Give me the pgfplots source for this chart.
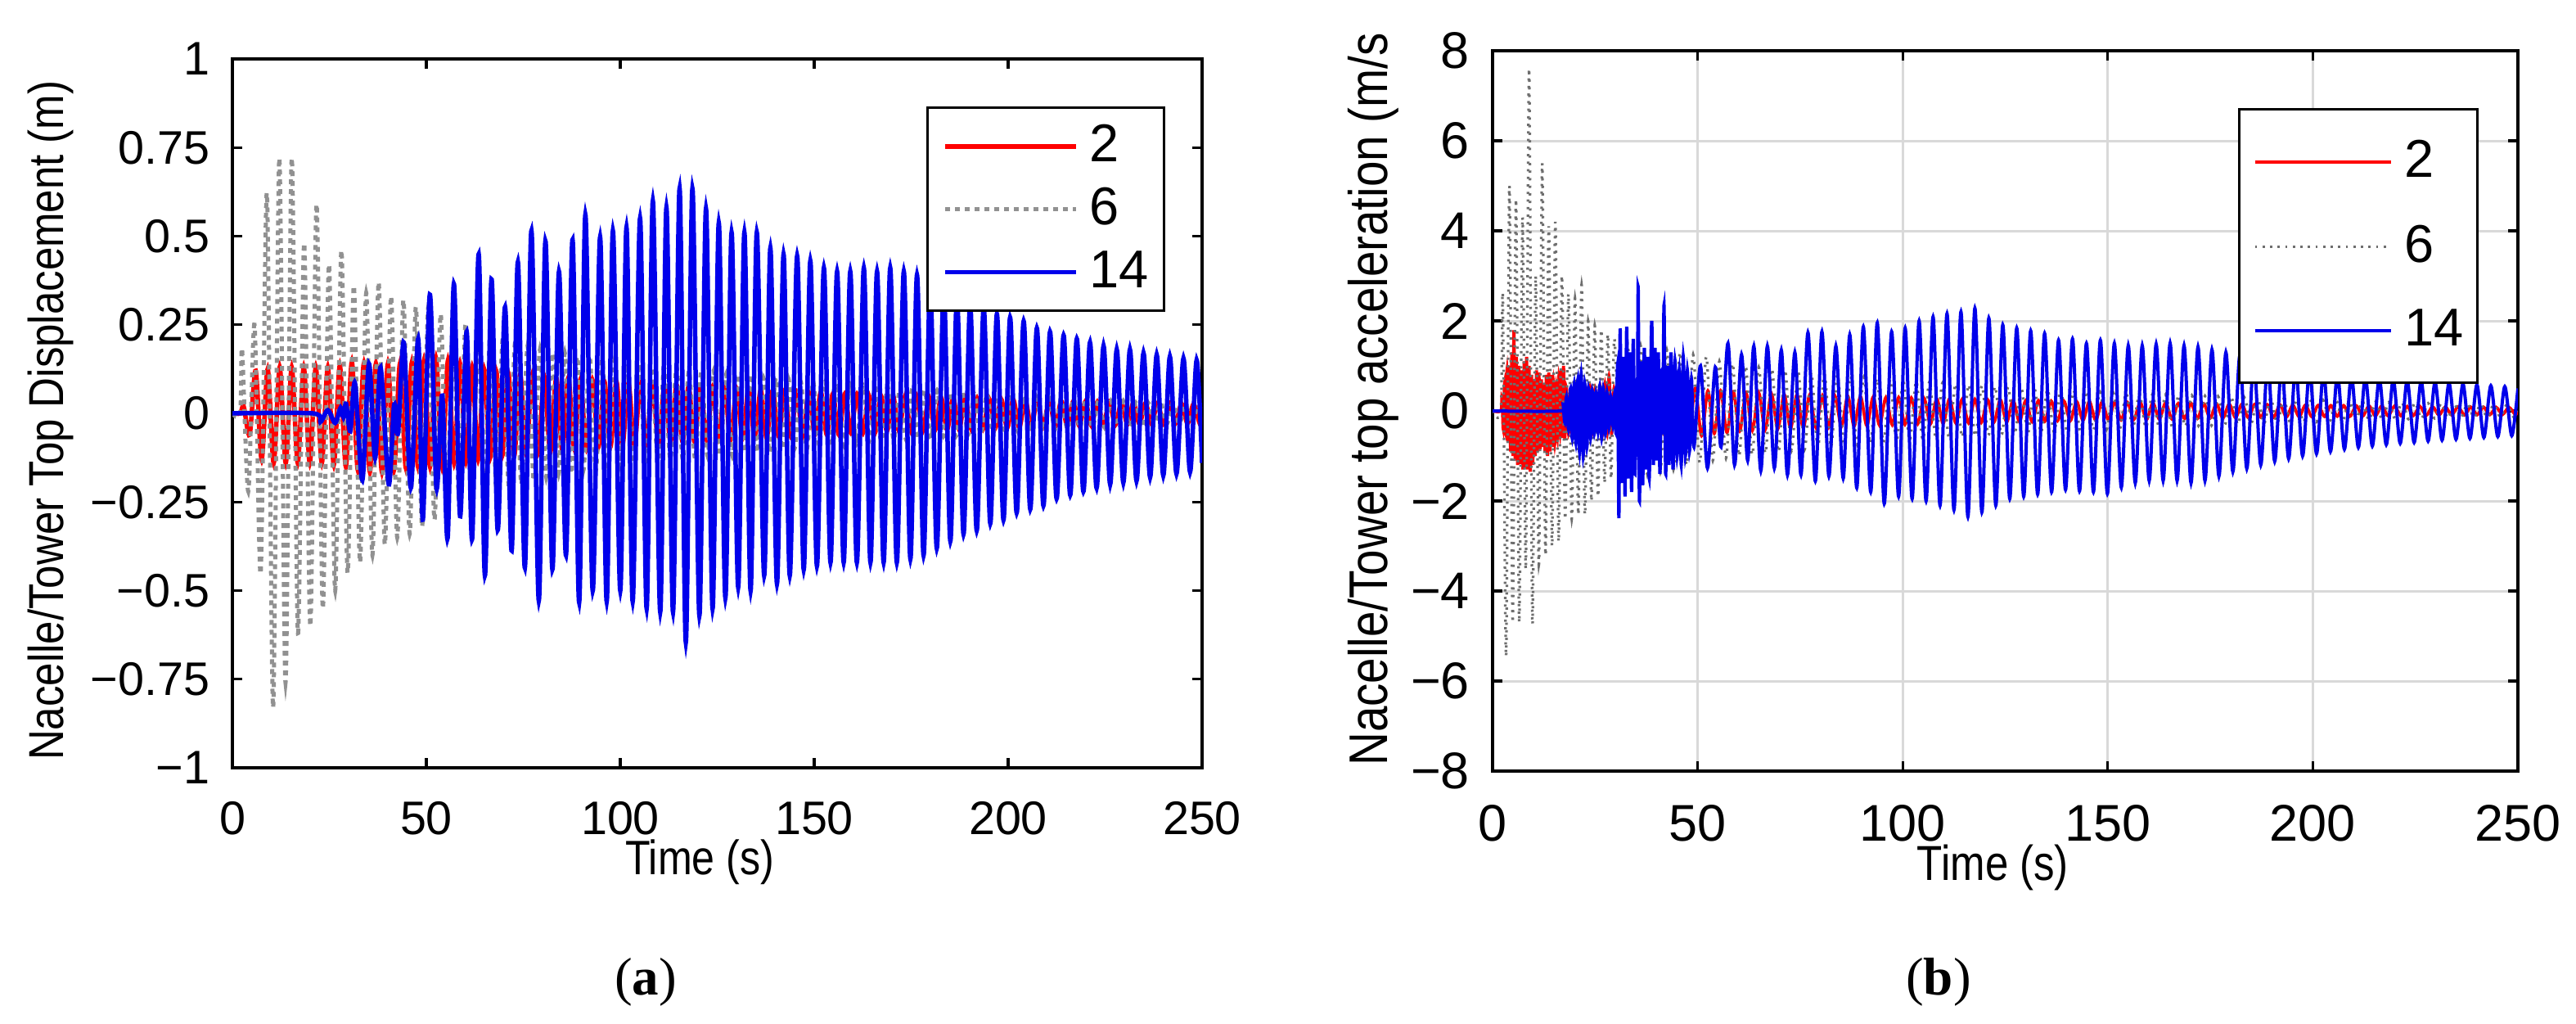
\documentclass[border=0pt]{standalone}
\usepackage{fontspec}
\setmainfont{Liberation Sans}
\newfontfamily\narrowfont[FakeStretch=0.85]{Liberation Sans}
\newfontfamily\capfont{Liberation Serif}
\usepackage{pgfplots}
\pgfplotsset{compat=1.18}
\definecolor{mred}{RGB}{255,0,0}
\definecolor{mblue}{RGB}{0,0,235}
\definecolor{mgrayA}{RGB}{145,145,145}
\definecolor{mgrayB}{RGB}{110,110,110}
\pgfplotsset{
  common/.style={
    scale only axis, xmin=0, xmax=250,
    xtick={0,50,100,150,200,250}, xticklabels={0,50,100,150,200,250},
    tick align=inside, major tick length=2.4pt,
    axis line style={line width=0.65pt},
    tick style={black, line width=0.65pt},
    /pgf/number format/assume math mode=true,
    xticklabel style={inner sep=0pt, anchor=north, yshift=-8pt},
    yticklabel style={inner sep=0pt, anchor=east, xshift=-5.4pt},
    legend cell align=left,
  }}
\begin{document}
\begin{tikzpicture}
\path[use as bounding box] (0,0) rectangle (629.6pt,250pt);
% ---------------- panel (a)
\begin{axis}[common,
  at={(56.8pt,235.6pt)}, anchor=north west, width=237pt, height=173.2pt,
  ymin=-1, ymax=1,
  ytick={-1,-0.75,-0.5,-0.25,0,0.25,0.5,0.75,1},
  yticklabels={−1,−0.75,−0.5,−0.25,0,0.25,0.5,0.75,1},
  tick label style={font=\fontsize{11.5}{13}\selectfont},
  xlabel={Time (s)}, ylabel={Nacelle/Tower Top Displacement (m)},
  xlabel style={at={(axis description cs:0.482,0)}, anchor=center, yshift=-23pt, font=\narrowfont\fontsize{11.8}{13}\selectfont},
  ylabel style={at={(axis description cs:-0.187,0.49)}, anchor=center, font=\narrowfont\fontsize{12}{14}\selectfont},
  legend image code/.code={\draw[#1] (0pt,0pt) -- (32pt,0pt);},
  legend style={at={(0.962,0.933)}, anchor=north east, draw=black, line width=0.6pt,
    inner xsep=3.8pt, inner ysep=4.2pt, row sep=4.8pt, column sep=2.6pt,
    nodes={inner sep=0pt}, font=\fontsize{13}{15}\selectfont},
]
\addplot[mred, line width=1.1pt, smooth] coordinates {(0,0)(2,0)(2.9,0.02)(4.45,-0.06)(6,0.12)(7.55,-0.13)(9.1,0.125)(10.65,-0.14)(12.2,0.13)(13.75,-0.14)(15.3,0.13)(16.85,-0.14)(18.4,0.13)(19.95,-0.14)(21.5,0.13)(23.05,-0.14)(24.6,0.13)(26.15,-0.145)(27.7,0.135)(29.25,-0.15)(30.8,0.145)(32.35,-0.16)(33.9,0.14)(35.45,-0.165)(37,0.14)(38.55,-0.165)(40.1,0.14)(41.65,-0.16)(43.2,0.14)(44.75,-0.155)(46.3,0.145)(47.85,-0.15)(49.4,0.15)(50.95,-0.15)(52.5,0.155)(54.05,-0.15)(55.6,0.15)(57.15,-0.14)(58.7,0.14)(60.25,-0.135)(61.8,0.13)(63.35,-0.13)(64.9,0.125)(66.45,-0.125)(68,0.12)(69.55,-0.12)(71.1,0.115)(72.65,-0.12)(74.2,0.11)(75.75,-0.115)(77.3,0.11)(78.85,-0.11)(80.4,0.105)(81.95,-0.11)(83.5,0.1)(85.05,-0.105)(86.6,0.1)(88.15,-0.1)(89.7,0.095)(91.25,-0.1)(92.8,0.095)(94.35,-0.095)(95.9,0.09)(97.45,-0.095)(99,0.09)(100.55,-0.09)(102.1,0.085)(103.65,-0.09)(105.2,0.085)(106.75,-0.085)(108.3,0.08)(109.85,-0.085)(111.4,0.08)(112.95,-0.08)(114.5,0.08)(116.05,-0.08)(117.6,0.075)(119.15,-0.08)(120.7,0.075)(122.25,-0.075)(123.8,0.075)(125.35,-0.075)(126.9,0.07)(128.45,-0.075)(130,0.07)(131.55,-0.07)(133.1,0.07)(134.65,-0.07)(136.2,0.065)(137.75,-0.07)(139.3,0.065)(140.85,-0.065)(142.4,0.065)(143.95,-0.065)(145.5,0.06)(147.05,-0.065)(148.6,0.06)(150.15,-0.06)(151.7,0.06)(153.25,-0.06)(154.8,0.055)(156.35,-0.06)(157.9,0.055)(159.45,-0.055)(161,0.055)(162.55,-0.055)(164.1,0.05)(165.65,-0.055)(167.2,0.05)(168.75,-0.05)(170.3,0.05)(171.85,-0.05)(173.4,0.048)(174.95,-0.05)(176.5,0.047)(178.05,-0.048)(179.6,0.046)(181.15,-0.047)(182.7,0.045)(184.25,-0.046)(185.8,0.044)(187.35,-0.045)(188.9,0.043)(190.45,-0.044)(192,0.042)(193.55,-0.043)(195.1,0.041)(196.65,-0.042)(198.2,0.04)(199.75,-0.041)(201.3,0.039)(202.85,-0.04)(204.4,0.038)(205.95,-0.039)(207.5,0.037)(209.05,-0.038)(210.6,0.036)(212.15,-0.037)(213.7,0.035)(215.25,-0.036)(216.8,0.034)(218.35,-0.035)(219.9,0.033)(221.45,-0.034)(223,0.032)(224.55,-0.033)(226.1,0.031)(227.65,-0.032)(229.2,0.03)(230.75,-0.031)(232.3,0.03)(233.85,-0.03)(235.4,0.029)(236.95,-0.03)(238.5,0.028)(240.05,-0.029)(241.6,0.028)(243.15,-0.028)(244.7,0.027)(246.25,-0.028)(247.8,0.026)(249.35,-0.027)(250,-0.01)};
\addlegendentry{2}
\addplot[mgrayA, line width=1pt, dash pattern=on 1.2pt off 1.2pt, smooth] coordinates {(0,0)(2,0)(2.5,0.18)(4.1,-0.22)(5.7,0.25)(7.3,-0.45)(8.9,0.62)(10.5,-0.83)(12.1,0.72)(13.7,-0.76)(15.3,0.72)(16.9,-0.62)(18.5,0.48)(20.1,-0.6)(21.7,0.59)(23.3,-0.55)(24.9,0.42)(26.5,-0.5)(28.1,0.46)(29.7,-0.45)(31.3,0.36)(32.9,-0.42)(34.5,0.34)(36.1,-0.4)(37.7,0.37)(39.3,-0.37)(40.9,0.33)(42.5,-0.35)(44.1,0.32)(45.7,-0.34)(47.3,0.3)(48.9,-0.32)(50.5,0.3)(52.1,-0.3)(53.7,0.28)(55.3,-0.28)(56.9,0.27)(58.5,-0.26)(60.1,0.25)(61.7,-0.24)(63.3,0.23)(64.9,-0.23)(66.5,0.22)(68.1,-0.22)(69.7,0.21)(71.3,-0.21)(72.9,0.2)(74.5,-0.2)(76.1,0.19)(77.7,-0.19)(79.3,0.18)(80.9,-0.18)(82.5,0.17)(84.1,-0.17)(85.7,0.17)(87.3,-0.17)(88.9,0.16)(90.5,-0.16)(92.1,0.16)(93.7,-0.16)(95.3,0.15)(96.9,-0.15)(98.5,0.15)(100.1,-0.15)(101.7,0.14)(103.3,-0.14)(104.9,0.14)(106.5,-0.14)(108.1,0.13)(109.7,-0.14)(111.3,0.13)(112.9,-0.13)(114.5,0.13)(116.1,-0.13)(117.7,0.12)(119.3,-0.13)(120.9,0.12)(122.5,-0.12)(124.1,0.12)(125.7,-0.12)(127.3,0.11)(128.9,-0.12)(130.5,0.11)(132.1,-0.11)(133.7,0.11)(135.3,-0.11)(136.9,0.1)(138.5,-0.11)(140.1,0.1)(141.7,-0.1)(143.3,0.1)(144.9,-0.1)(146.5,0.09)(148.1,-0.1)(149.7,0.09)(151.3,-0.09)(152.9,0.09)(154.5,-0.09)(156.1,0.085)(157.7,-0.09)(159.3,0.08)(160.9,-0.085)(162.5,0.08)(164.1,-0.08)(165.7,0.075)(167.3,-0.08)(168.9,0.075)(170.5,-0.075)(172.1,0.07)(173.7,-0.075)(175.3,0.07)(176.9,-0.07)(178.5,0.065)(180.1,-0.07)(181.7,0.065)(183.3,-0.065)(184.9,0.06)(186.5,-0.065)(188.1,0.06)(189.7,-0.06)(191.3,0.055)(192.9,-0.06)(194.5,0.055)(196.1,-0.055)(197.7,0.05)(199.3,-0.055)(200.9,0.05)(202.5,-0.05)(204.1,0.05)(205.7,-0.05)(207.3,0.045)(208.9,-0.05)(210.5,0.045)(212.1,-0.045)(213.7,0.04)(215.3,-0.045)(216.9,0.04)(218.5,-0.04)(220.1,0.04)(221.7,-0.04)(223.3,0.035)(224.9,-0.04)(226.5,0.035)(228.1,-0.035)(229.7,0.035)(231.3,-0.035)(232.9,0.03)(234.5,-0.035)(236.1,0.03)(237.7,-0.03)(239.3,0.03)(240.9,-0.03)(242.5,0.03)(244.1,-0.03)(245.7,0.025)(247.3,-0.03)(248.9,0.025)(250,0)};
\addlegendentry{6}
\addplot[mblue, line width=1.1pt, smooth] coordinates {(0,0)(20.8,0)(22.7,-0.024)(24.6,0.009)(26.5,-0.027)(27.9,0.016)(28.6,-0.01)(29.3,0.027)(30.4,-0.05)(31.6,0.086)(33.5,-0.188)(35.2,0.14)(36.8,-0.126)(38.2,0.13)(40.3,-0.2)(41.7,0.025)(42.7,-0.055)(44.2,0.2)(46,-0.21)(47.9,0.21)(49.1,-0.3)(50.9,0.335)(52.6,-0.21)(54.1,0.05)(55.5,-0.351)(57.1,0.365)(58.7,-0.29)(60.4,0.23)(61.8,-0.355)(63.5,0.449)(65.1,-0.457)(66.8,0.378)(68.4,-0.329)(70.3,0.3)(72,-0.387)(73.6,0.427)(75.4,-0.435)(77.1,0.515)(79,-0.528)(80.7,0.486)(82.5,-0.44)(84.2,0.4)(86,-0.4)(87.7,0.49)(89.4,-0.533)(91,0.56)(92.9,-0.5)(94.8,0.497)(96.5,-0.53)(98.1,0.515)(100,-0.5)(101.6,0.524)(103.2,-0.53)(105.1,0.55)(106.8,-0.55)(108.4,0.599)(110.3,-0.56)(111.9,0.58)(113.6,-0.56)(115.3,0.634)(116.9,-0.645)(118.6,0.634)(120.4,-0.57)(122.1,0.577)(123.8,-0.55)(125.4,0.537)(127.1,-0.52)(128.7,0.51)(130.4,-0.49)(132,0.51)(133.6,-0.5)(135.2,0.51)(137.1,-0.457)(138.7,0.466)(140.4,-0.48)(142.1,0.448)(143.7,-0.457)(145.6,0.444)(147.3,-0.44)(149,0.43)(150.7,-0.43)(152.5,0.41)(154.2,-0.42)(155.9,0.4)(157.6,-0.42)(159.3,0.4)(161,-0.42)(162.8,0.41)(164.5,-0.42)(166.2,0.4)(167.9,-0.42)(169.6,0.41)(171.3,-0.42)(173.1,0.4)(174.8,-0.41)(176.5,0.39)(178.2,-0.4)(179.9,0.37)(181.6,-0.38)(183.4,0.35)(185.1,-0.36)(186.8,0.33)(188.5,-0.34)(190.2,0.31)(191.9,-0.33)(193.7,0.3)(195.4,-0.31)(197.1,0.28)(198.8,-0.3)(200.5,0.27)(202.2,-0.28)(204,0.26)(205.7,-0.27)(207.4,0.24)(209.1,-0.26)(210.8,0.23)(212.5,-0.24)(214.3,0.22)(216,-0.23)(217.7,0.21)(219.4,-0.22)(221.1,0.2)(222.8,-0.21)(224.6,0.19)(226.3,-0.2)(228,0.18)(229.7,-0.195)(231.4,0.18)(233.1,-0.19)(234.9,0.17)(236.6,-0.18)(238.3,0.165)(240,-0.175)(241.7,0.16)(243.4,-0.17)(245.2,0.155)(246.9,-0.165)(248.6,0.15)(250,-0.14)};
\addlegendentry{14}
\end{axis}
% ---------------- panel (b)
\begin{axis}[common,
  at={(364.8pt,237.6pt)}, anchor=north west, width=250.6pt, height=176pt,
  ymin=-8, ymax=8,
  ytick={-8,-6,-4,-2,0,2,4,6,8},
  yticklabels={−8,−6,−4,−2,0,2,4,6,8},
  grid=major, major grid style={black!15, line width=0.6pt},
  tick label style={font=\fontsize{12.6}{14}\selectfont},
  xlabel={Time (s)}, ylabel={Nacelle/Tower top acceleration (m/s},
  xlabel style={at={(axis description cs:0.488,0)}, anchor=center, yshift=-23.5pt, font=\narrowfont\fontsize{12}{14}\selectfont},
  ylabel style={at={(axis description cs:-0.1165,0.516)}, anchor=center, font=\narrowfont\fontsize{13.3}{15}\selectfont},
  legend image code/.code={\draw[#1] (0pt,0pt) -- (33.2pt,0pt);},
  legend style={at={(0.962,0.920)}, anchor=north east, draw=black, line width=0.6pt,
    inner xsep=3.4pt, inner ysep=7.5pt, row sep=10.1pt, column sep=3pt,
    nodes={inner sep=0pt}, font=\fontsize{13}{15}\selectfont},
]
\addplot[mred, line width=0.75pt, smooth] coordinates {(0,0)(2,0)(2.3,0.3)(2.6,-0.4)(2.9,0.6)(3.2,-0.5)(3.5,0.9)(3.8,-0.7)(4.1,1)(4.4,-0.9)(4.7,1.3)(5,-1)(5.2,1.79)(5.5,-1.1)(5.8,1.2)(6.1,-1.2)(6.4,1)(6.8,-1.18)(7.1,0.9)(7.4,-1.3)(7.7,1.1)(8,-1.25)(8.3,1.2)(8.6,-1.3)(8.9,1)(9.2,-1.35)(9.5,0.8)(9.8,-1.2)(10.1,0.7)(10.4,-1)(10.7,0.9)(11,-0.9)(11.3,0.85)(11.6,-0.85)(11.9,0.7)(12.2,-0.8)(12.5,0.6)(12.8,-0.9)(13.1,0.8)(13.4,-1)(13.7,0.85)(14,-0.9)(14.3,0.8)(14.6,-0.8)(14.9,0.6)(15.2,-0.7)(15.5,0.5)(15.8,-0.6)(16.1,0.7)(16.4,-0.5)(16.7,0.9)(17,-0.6)(17.3,1)(17.6,-0.6)(18,0.5)(18.5,-0.5)(19,0.4)(19.6,-0.5)(20.2,0.45)(20.8,-0.5)(21.4,0.4)(22,-0.55)(22.6,0.45)(23.2,-0.5)(23.8,0.53)(24.4,-0.45)(25,0.5)(25.6,-0.4)(26.2,0.55)(26.8,-0.5)(27.4,0.6)(27.9,-0.5)(28.4,0.76)(29,-0.5)(29.6,0.5)(30.2,-0.45)(30.8,0.45)(32.35,-0.5)(33.9,0.5)(35.45,-0.55)(37,0.5)(38.55,-0.55)(40.1,0.5)(41.65,-0.5)(43.2,0.55)(44.75,-0.55)(46.3,0.55)(47.85,-0.55)(49.4,0.5)(50.95,-0.55)(52.5,0.45)(54.05,-0.5)(55.6,0.45)(57.15,-0.48)(58.7,0.42)(60.25,-0.45)(61.8,0.4)(63.35,-0.43)(64.9,0.4)(66.45,-0.42)(68,0.38)(69.55,-0.4)(71.1,0.37)(72.65,-0.39)(74.2,0.36)(75.75,-0.38)(77.3,0.35)(78.85,-0.37)(80.4,0.34)(81.95,-0.36)(83.5,0.33)(85.05,-0.35)(86.6,0.33)(88.15,-0.34)(89.7,0.32)(91.25,-0.33)(92.8,0.31)(94.35,-0.32)(95.9,0.3)(97.45,-0.31)(99,0.3)(100.55,-0.3)(102.1,0.29)(103.65,-0.29)(105.2,0.28)(106.75,-0.29)(108.3,0.27)(109.85,-0.28)(111.4,0.27)(112.95,-0.27)(114.5,0.26)(116.05,-0.27)(117.6,0.26)(119.15,-0.26)(120.7,0.25)(122.25,-0.25)(123.8,0.25)(125.35,-0.25)(126.9,0.24)(128.45,-0.24)(130,0.23)(131.55,-0.24)(133.1,0.23)(134.65,-0.23)(136.2,0.22)(137.75,-0.22)(139.3,0.22)(140.85,-0.22)(142.4,0.21)(143.95,-0.21)(145.5,0.21)(147.05,-0.21)(148.6,0.2)(150.15,-0.2)(151.7,0.2)(153.25,-0.2)(154.8,0.19)(156.35,-0.19)(157.9,0.19)(159.45,-0.19)(161,0.18)(162.55,-0.18)(164.1,0.18)(165.65,-0.18)(167.2,0.17)(168.75,-0.17)(170.3,0.17)(171.85,-0.17)(173.4,0.16)(174.95,-0.16)(176.5,0.16)(178.05,-0.16)(179.6,0.15)(181.15,-0.15)(182.7,0.15)(184.25,-0.15)(185.8,0.145)(187.35,-0.145)(188.9,0.14)(190.45,-0.14)(192,0.135)(193.55,-0.135)(195.1,0.13)(196.65,-0.13)(198.2,0.13)(199.75,-0.13)(201.3,0.125)(202.85,-0.125)(204.4,0.12)(205.95,-0.12)(207.5,0.12)(209.05,-0.12)(210.6,0.115)(212.15,-0.115)(213.7,0.11)(215.25,-0.11)(216.8,0.11)(218.35,-0.11)(219.9,0.105)(221.45,-0.105)(223,0.1)(224.55,-0.1)(226.1,0.1)(227.65,-0.1)(229.2,0.095)(230.75,-0.095)(232.3,0.09)(233.85,-0.09)(235.4,0.09)(236.95,-0.09)(238.5,0.085)(240.05,-0.085)(241.6,0.085)(243.15,-0.085)(244.7,0.08)(246.25,-0.08)(247.8,0.08)(249.35,-0.08)(250,0)};
\addlegendentry{2}
\addplot[mgrayB, line width=0.65pt, dash pattern=on 0.55pt off 1.3pt, smooth] coordinates {(0,0)(2,0)(2.5,2.5)(3.3,-5.44)(4.1,5)(4.9,-4.7)(5.7,4.7)(6.5,-4.7)(7.3,4.3)(8.1,-3.5)(8.9,7.6)(9.7,-4.7)(10.5,3)(11.3,-3.4)(12.1,5.5)(12.9,-3.2)(13.7,4.1)(14.5,-3)(15.3,4.2)(16.1,-2.9)(16.9,3)(17.7,-2.4)(18.5,2.6)(19.3,-2.4)(20.1,2.5)(20.9,-2.3)(21.7,2.8)(22.5,-2.3)(23.3,2)(24.1,-2)(24.9,1.9)(25.7,-1.9)(26.5,1.8)(27.3,-1.6)(28.1,1.7)(28.9,-1.5)(29.7,1.6)(31.3,-1.5)(32.9,1.5)(34.5,-1.45)(36.1,1.45)(37.7,-1.4)(39.3,1.4)(40.9,-1.35)(42.5,1.35)(44.1,-1.3)(45.7,1.3)(47.3,-1.2)(48.9,1.25)(50.5,-1.15)(52.1,1.2)(53.7,-1.1)(55.3,1.1)(56.9,-1.05)(58.5,1.05)(60.1,-1)(61.7,1)(63.3,-0.97)(64.9,0.97)(66.5,-0.94)(68.1,0.94)(69.7,-0.91)(71.3,0.91)(72.9,-0.88)(74.5,0.88)(76.1,-0.85)(77.7,0.85)(79.3,-0.82)(80.9,0.82)(82.5,-0.8)(84.1,0.8)(85.7,-0.77)(87.3,0.77)(88.9,-0.75)(90.5,0.75)(92.1,-0.72)(93.7,0.72)(95.3,-0.7)(96.9,0.7)(98.5,-0.68)(100.1,0.68)(101.7,-0.66)(103.3,0.66)(104.9,-0.64)(106.5,0.64)(108.1,-0.62)(109.7,0.62)(111.3,-0.6)(112.9,0.6)(114.5,-0.58)(116.1,0.58)(117.7,-0.56)(119.3,0.56)(120.9,-0.54)(122.5,0.54)(124.1,-0.53)(125.7,0.53)(127.3,-0.51)(128.9,0.51)(130.5,-0.5)(132.1,0.5)(133.7,-0.48)(135.3,0.48)(136.9,-0.47)(138.5,0.47)(140.1,-0.45)(141.7,0.45)(143.3,-0.44)(144.9,0.44)(146.5,-0.42)(148.1,0.42)(149.7,-0.41)(151.3,0.41)(152.9,-0.4)(154.5,0.4)(156.1,-0.38)(157.7,0.38)(159.3,-0.37)(160.9,0.37)(162.5,-0.36)(164.1,0.36)(165.7,-0.35)(167.3,0.35)(168.9,-0.34)(170.5,0.34)(172.1,-0.33)(173.7,0.33)(175.3,-0.32)(176.9,0.32)(178.5,-0.31)(180.1,0.31)(181.7,-0.3)(183.3,0.3)(184.9,-0.29)(186.5,0.29)(188.1,-0.28)(189.7,0.28)(191.3,-0.27)(192.9,0.27)(194.5,-0.26)(196.1,0.26)(197.7,-0.25)(199.3,0.25)(200.9,-0.24)(202.5,0.24)(204.1,-0.23)(205.7,0.23)(207.3,-0.22)(208.9,0.22)(210.5,-0.21)(212.1,0.21)(213.7,-0.2)(215.3,0.2)(216.9,-0.19)(218.5,0.19)(220.1,-0.185)(221.7,0.185)(223.3,-0.18)(224.9,0.18)(226.5,-0.17)(228.1,0.17)(229.7,-0.165)(231.3,0.165)(232.9,-0.16)(234.5,0.16)(236.1,-0.15)(237.7,0.15)(239.3,-0.145)(240.9,0.145)(242.5,-0.14)(244.1,0.14)(245.7,-0.135)(247.3,0.135)(248.9,-0.13)(250,0)};
\addlegendentry{6}
\addplot[mblue, line width=0.8pt, smooth] coordinates {(0,0)(16.8,0)(17.2,0.15)(17.6,-0.25)(18,0.3)(18.5,-0.4)(19,0.5)(19.4,-0.6)(19.9,0.6)(20.3,-0.7)(20.8,0.7)(21.2,-0.9)(21.6,0.8)(22.1,-1)(22.5,0.6)(23,-0.8)(23.4,0.5)(23.9,-0.6)(24.3,0.45)(24.8,-0.5)(25.2,0.4)(25.7,-0.45)(26.1,0.55)(26.6,-0.6)(27,0.5)(27.5,-0.5)(27.9,0.4)(28.4,-0.35)(28.8,0.3)(29.3,-0.3)(29.7,0.35)(30.1,-0.5)(30.5,1)(30.8,-2.38)(31.1,1.83)(31.5,-1.6)(31.9,1.2)(32.3,-1.9)(32.7,1.87)(33.1,-1.5)(33.5,1.3)(33.9,-1.8)(34.3,1.6)(34.7,-1.4)(35.1,0.6)(35.3,-0.4)(35.5,2.76)(35.8,-2)(36.2,1.1)(36.6,-1.65)(37,1.4)(37.4,-1.3)(37.8,1.2)(38.2,-1.5)(38.8,2)(39.2,-1.2)(39.6,1.4)(40,-1.1)(40.4,1.3)(40.8,-1.4)(41.2,0.9)(41.5,-0.5)(41.8,2.35)(42.2,-1.4)(42.6,1)(43,-1.2)(43.5,1.3)(44,-1.3)(44.5,1.1)(45,-1)(45.5,0.9)(46,-1.2)(46.5,1.2)(47,-1)(47.5,0.9)(48,-0.9)(48.5,0.7)(49.1,-0.8)(50.7,1)(52.4,-1.27)(54.3,0.97)(55.7,-0.8)(57.4,1.5)(59,-1.2)(60.7,1.25)(62.2,-1.1)(63.7,1.44)(65.4,-1.33)(67,1.44)(68.7,-1.27)(70.4,1.35)(71.9,-1.42)(73.7,1.3)(75.2,-1.42)(76.9,1.74)(78.7,-1.56)(80.3,1.76)(82,-1.45)(83.7,1.44)(85.5,-1.5)(87.1,1.69)(88.8,-1.71)(90.4,1.87)(92.2,-1.8)(93.8,1.96)(95.5,-2.06)(97.3,1.76)(99,-1.9)(100.6,1.84)(102.3,-1.95)(104,2)(105.7,-2)(107.4,2.09)(109.1,-2.1)(110.8,2.16)(112.5,-2.2)(114.2,2.2)(115.9,-2.35)(117.6,2.28)(119.3,-2.25)(121,2.06)(122.7,-2.1)(124.4,1.91)(126.1,-1.95)(127.8,1.84)(129.5,-1.9)(131.2,1.78)(132.9,-1.85)(134.6,1.72)(136.3,-1.8)(138,1.57)(139.7,-1.75)(141.4,1.6)(143.1,-1.78)(144.8,1.5)(146.5,-1.8)(148.2,1.57)(149.9,-1.84)(151.6,1.5)(153.3,-1.7)(155,1.45)(156.7,-1.6)(158.4,1.45)(160.1,-1.55)(161.8,1.48)(163.5,-1.55)(165.2,1.5)(166.9,-1.55)(168.6,1.45)(170.3,-1.6)(172,1.42)(173.7,-1.55)(175.4,1.36)(177.1,-1.45)(178.8,1.3)(180.5,-1.35)(182.2,1.23)(183.9,-1.28)(185.6,1.17)(187.3,-1.2)(189,1.1)(190.7,-1.12)(192.4,1.05)(194.1,-1.06)(195.8,1)(197.5,-1)(199.2,0.93)(200.9,-0.95)(202.6,0.88)(204.3,-0.9)(206,0.82)(207.7,-0.85)(209.4,0.79)(211.1,-0.81)(212.8,0.76)(214.5,-0.78)(216.2,0.73)(217.9,-0.75)(219.6,0.7)(221.3,-0.72)(223,0.68)(224.7,-0.7)(226.4,0.66)(228.1,-0.67)(229.8,0.64)(231.5,-0.65)(233.2,0.62)(234.9,-0.63)(236.6,0.6)(238.3,-0.61)(240,0.58)(241.7,-0.59)(243.4,0.56)(245.1,-0.57)(246.8,0.54)(248.5,-0.55)(250,0.5)};
\addlegendentry{14}
\end{axis}
\node[font=\capfont\fontsize{13}{15}\selectfont] at (157.8pt,10pt) {(\textbf{a})};
\node[font=\capfont\fontsize{13}{15}\selectfont] at (473.8pt,10pt) {(\textbf{b})};
\end{tikzpicture}
\end{document}
